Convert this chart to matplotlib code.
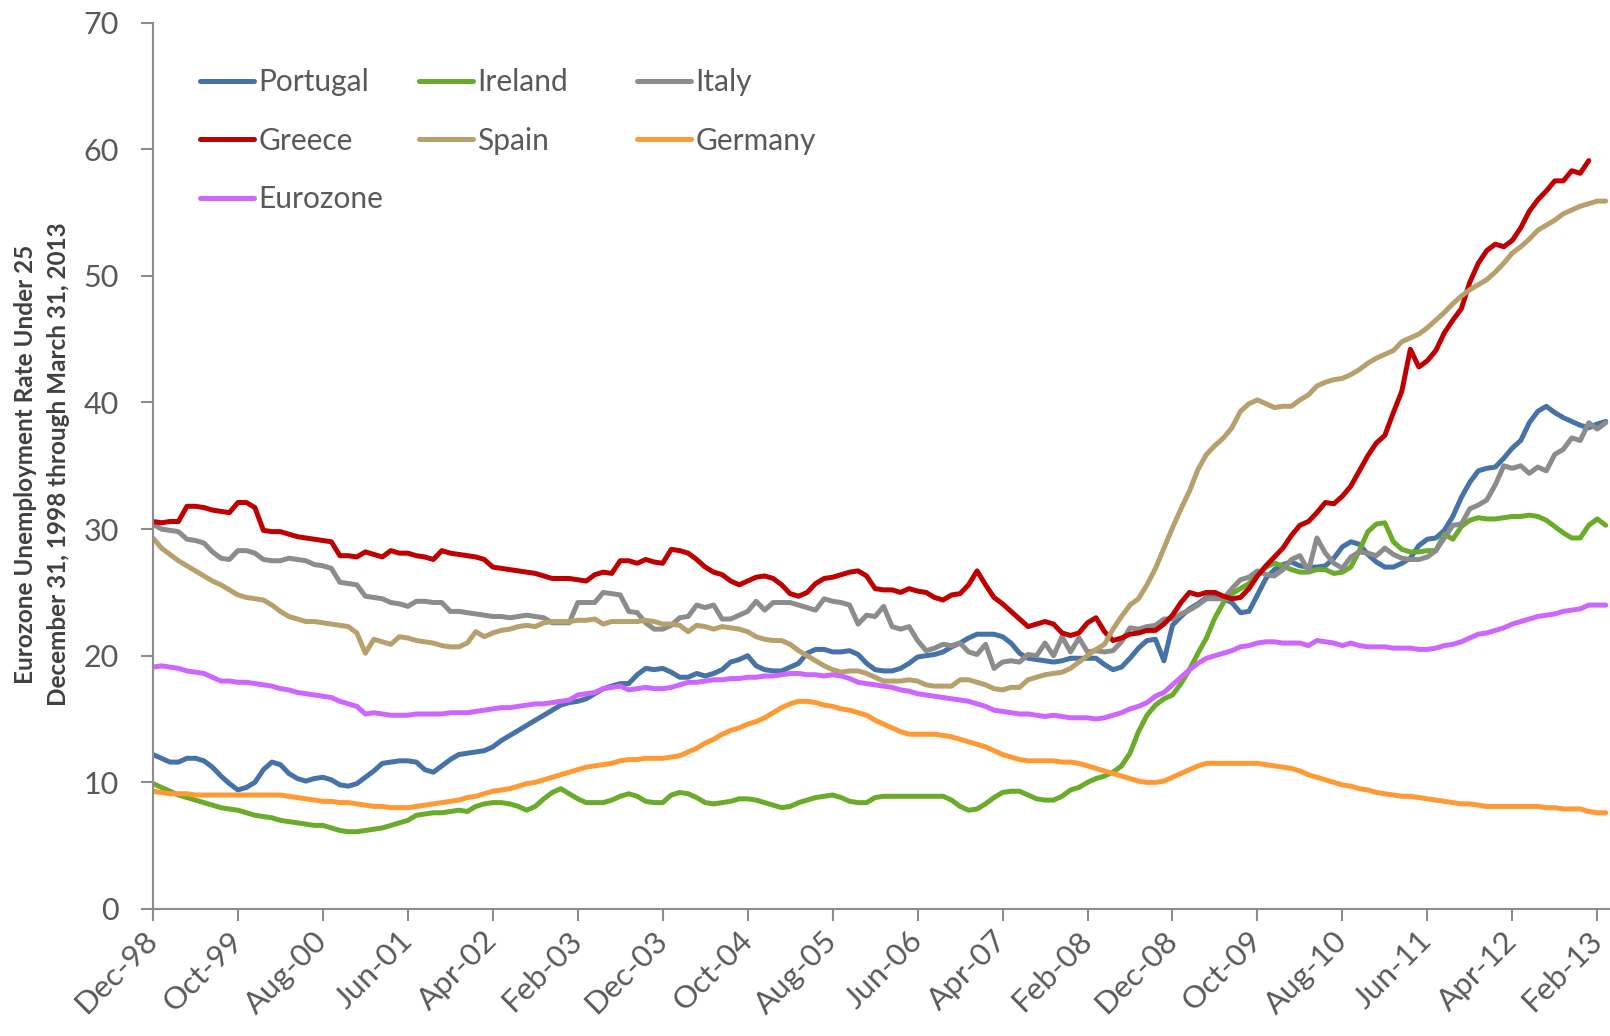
import matplotlib.pyplot as plt
import numpy as np

# Monthly under-25 unemployment rate (%), Dec-98 .. Mar-13 (172 months)
portugal = [
    12.2, 11.9, 11.6, 11.6, 11.9, 11.9, 11.7, 11.2, 10.5, 9.9, 9.4, 9.6, 10.0, 11.0, 11.6,
    11.4, 10.7, 10.3, 10.1, 10.3, 10.4, 10.2, 9.8, 9.7, 9.9, 10.4, 10.9, 11.5, 11.6, 11.7,
    11.7, 11.6, 11.0, 10.8, 11.3, 11.8, 12.2, 12.3, 12.4, 12.5, 12.8, 13.3, 13.7, 14.1, 14.5,
    14.9, 15.3, 15.7, 16.1, 16.3, 16.4, 16.6, 17.0, 17.4, 17.6, 17.8, 17.8, 18.5, 19.0,
    18.9, 19.0, 18.7, 18.3, 18.3, 18.6, 18.4, 18.6, 18.9, 19.5, 19.7, 20.0, 19.2, 18.9, 18.8,
    18.8, 19.1, 19.4, 20.2, 20.5, 20.5, 20.3, 20.3, 20.4, 20.1, 19.4, 18.9, 18.8, 18.8, 19.0,
    19.4, 19.9, 20.0, 20.1, 20.3, 20.7, 21.0, 21.4, 21.7, 21.7, 21.7, 21.5, 21.0, 20.2, 19.8,
    19.7, 19.6, 19.5, 19.6, 19.8, 19.8, 19.8, 19.8, 19.3, 18.9, 19.1, 19.8, 20.6, 21.2,
    21.3, 19.6, 22.4, 23.1, 23.7, 24.1, 24.6, 24.6, 24.5, 24.2, 23.4, 23.5, 24.8, 26.1, 26.8,
    27.2, 27.4, 27.1, 27.0, 27.0, 27.1, 27.7, 28.6, 29.0, 28.8, 28.0,
    27.4, 27.0, 27.0, 27.3, 27.7, 28.7, 29.2, 29.3, 29.9, 31.0, 32.5, 33.7, 34.6, 34.8, 34.9,
    35.6, 36.4, 37.0, 38.4, 39.3, 39.7, 39.2, 38.8, 38.5, 38.2, 38.0, 38.3, 38.5,
]
ireland = [
    9.9, 9.6, 9.3, 9.0, 8.8, 8.6, 8.4, 8.2, 8.0, 7.9, 7.8, 7.6, 7.4, 7.3, 7.2,
    7.0, 6.9, 6.8, 6.7, 6.6, 6.6, 6.4, 6.2, 6.1, 6.1, 6.2, 6.3, 6.4, 6.6, 6.8,
    7.0, 7.4, 7.5, 7.6, 7.6, 7.7, 7.8, 7.7, 8.1, 8.3, 8.4, 8.4, 8.3, 8.1, 7.8,
    8.1, 8.7, 9.2, 9.5, 9.1, 8.7, 8.4, 8.4, 8.4, 8.6, 8.9, 9.1, 8.9, 8.5,
    8.4, 8.4, 9.0, 9.2, 9.1, 8.8, 8.4, 8.3, 8.4, 8.5, 8.7, 8.7, 8.6, 8.4, 8.2,
    8.0, 8.1, 8.4, 8.6, 8.8, 8.9, 9.0, 8.8, 8.5, 8.4, 8.4, 8.8, 8.9, 8.9, 8.9,
    8.9, 8.9, 8.9, 8.9, 8.9, 8.6, 8.1, 7.8, 7.9, 8.3, 8.8, 9.2, 9.3, 9.3, 9.0,
    8.7, 8.6, 8.6, 8.9, 9.4, 9.6, 10.0, 10.3, 10.5, 10.8, 11.3, 12.3, 14.0, 15.3,
    16.1, 16.6, 16.9, 17.8, 18.9, 20.2, 21.4, 23.0, 24.2, 24.9, 25.3, 25.7, 26.4, 27.0, 27.3,
    27.1, 26.8, 26.6, 26.6, 26.8, 26.8, 26.5, 26.6, 27.0, 28.3, 29.8, 30.4, 30.5,
    29.0, 28.4, 28.2, 28.2, 28.3, 28.3, 29.6, 29.2, 30.2, 30.7, 30.9, 30.8, 30.8, 30.9, 31.0,
    31.0, 31.1, 31.0, 30.7, 30.2, 29.7, 29.3, 29.3, 30.3, 30.8, 30.3,
]
italy = [
    30.4, 30.0, 29.9, 29.8, 29.2, 29.1, 28.9, 28.2, 27.7, 27.6, 28.3, 28.3, 28.1, 27.6, 27.5,
    27.5, 27.7, 27.6, 27.5, 27.2, 27.1, 26.9, 25.8, 25.7, 25.6, 24.7, 24.6, 24.5, 24.2, 24.1,
    23.9, 24.3, 24.3, 24.2, 24.2, 23.5, 23.5, 23.4, 23.3, 23.2, 23.1, 23.1, 23.0, 23.1, 23.2,
    23.1, 23.0, 22.6, 22.6, 22.6, 24.2, 24.2, 24.2, 25.0, 24.9, 24.8, 23.5, 23.4, 22.6,
    22.1, 22.1, 22.4, 23.0, 23.1, 24.0, 23.8, 24.0, 22.9, 22.9, 23.2, 23.5, 24.3, 23.6, 24.2,
    24.2, 24.2, 24.0, 23.8, 23.6, 24.5, 24.3, 24.2, 24.0, 22.5, 23.2, 23.1, 23.9, 22.3, 22.1,
    22.3, 21.2, 20.4, 20.6, 20.9, 20.8, 21.0, 20.3, 20.1, 20.9, 19.0, 19.5, 19.6, 19.5, 20.1,
    20.0, 21.0, 20.0, 21.5, 20.3, 21.4, 20.3, 20.4, 20.3, 20.4, 21.1, 22.2, 22.1, 22.3,
    22.4, 22.9, 22.9, 23.3, 23.6, 24.0, 24.5, 24.5, 24.5, 25.3, 26.0, 26.2, 26.7, 26.4, 26.3,
    26.8, 27.6, 27.9, 26.7, 29.3, 28.1, 27.3, 26.9, 27.8, 28.2, 28.1, 27.9, 28.5,
    28.0, 27.7, 27.6, 27.6, 27.8, 28.3, 29.3, 30.3, 30.4, 31.6, 31.9, 32.3, 33.5, 35.0, 34.8,
    35.0, 34.4, 34.9, 34.6, 35.9, 36.3, 37.2, 37.0, 38.4, 37.9, 38.4,
]
greece = [
    30.6, 30.5, 30.6, 30.6, 31.8, 31.8, 31.7, 31.5, 31.4, 31.3, 32.1, 32.1, 31.7, 29.9, 29.8,
    29.8, 29.6, 29.4, 29.3, 29.2, 29.1, 29.0, 27.9, 27.9, 27.8, 28.2, 28.0, 27.8, 28.3, 28.1,
    28.1, 27.9, 27.8, 27.6, 28.3, 28.1, 28.0, 27.9, 27.8, 27.6, 27.0, 26.9, 26.8, 26.7, 26.6,
    26.5, 26.3, 26.1, 26.1, 26.1, 26.0, 25.9, 26.4, 26.6, 26.5, 27.5, 27.5, 27.3, 27.6,
    27.4, 27.3, 28.4, 28.3, 28.1, 27.6, 27.0, 26.6, 26.4, 25.9, 25.6, 25.9, 26.2, 26.3, 26.1,
    25.6, 24.9, 24.7, 25.0, 25.7, 26.1, 26.2, 26.4, 26.6, 26.7, 26.3, 25.3, 25.2, 25.2, 25.0,
    25.3, 25.1, 25.0, 24.6, 24.4, 24.8, 24.9, 25.6, 26.7, 25.6, 24.6, 24.1, 23.5, 22.9, 22.3,
    22.5, 22.7, 22.5, 21.8, 21.6, 21.8, 22.6, 23.0, 21.9, 21.2, 21.4, 21.7, 21.8, 22.0,
    22.0, 22.5, 23.2, 24.2, 25.0, 24.8, 25.0, 25.0, 24.7, 24.5, 24.6, 25.3, 26.3, 27.1, 27.8,
    28.5, 29.5, 30.3, 30.6, 31.3, 32.1, 32.0,
    32.6, 33.4, 34.6, 35.8, 36.8, 37.4, 39.2, 40.9, 44.2, 42.8, 43.3, 44.1, 45.5, 46.5, 47.4,
    49.5, 51.0, 52.0, 52.5, 52.3, 52.8, 53.8, 55.1, 56.0, 56.7, 57.5, 57.5, 58.3, 58.1, 59.1,
    np.nan, np.nan,
]
spain = [
    29.3, 28.5, 28.0, 27.5, 27.1, 26.7, 26.3, 25.9, 25.6, 25.2, 24.8, 24.6, 24.5, 24.4, 24.0,
    23.5, 23.1, 22.9, 22.7, 22.7, 22.6, 22.5, 22.4, 22.3, 21.8, 20.2, 21.3, 21.1, 20.9, 21.5,
    21.4, 21.2, 21.1, 21.0, 20.8, 20.7, 20.7, 21.0, 21.9, 21.5, 21.8, 22.0, 22.1, 22.3, 22.4,
    22.3, 22.6, 22.7, 22.7, 22.7, 22.8, 22.8, 22.9, 22.5, 22.7, 22.7, 22.7, 22.7, 22.8,
    22.7, 22.5, 22.5, 22.4, 21.9, 22.4, 22.3, 22.1, 22.3, 22.2, 22.1, 21.9, 21.5, 21.3, 21.2,
    21.2, 20.9, 20.4, 20.0, 19.6, 19.2, 18.9, 18.7, 18.8, 18.8, 18.6, 18.3, 18.0, 18.0, 18.0,
    18.1, 18.0, 17.7, 17.6, 17.6, 17.6, 18.1, 18.1, 17.9, 17.7, 17.4, 17.3, 17.5, 17.5, 18.1,
    18.3, 18.5, 18.6, 18.7, 19.0, 19.5, 20.0, 20.5, 20.9, 22.1, 23.1, 24.0, 24.5, 25.6,
    26.9, 28.5, 30.1, 31.6, 33.0, 34.7, 35.9, 36.6, 37.2, 38.0, 39.3, 39.9, 40.2, 39.9, 39.6,
    39.7, 39.7, 40.2, 40.6, 41.3, 41.6, 41.8, 41.9, 42.2, 42.6, 43.1, 43.5,
    43.8, 44.1, 44.8, 45.1, 45.4, 45.9, 46.5, 47.1, 47.8, 48.4, 48.9, 49.3, 49.7, 50.3, 51.0,
    51.8, 52.3, 52.9, 53.6, 54.0, 54.4, 54.9, 55.2, 55.5, 55.7, 55.9, 55.9,
]
germany = [
    9.3, 9.2, 9.1, 9.1, 9.1, 9.0, 9.0, 9.0, 9.0, 9.0, 9.0, 9.0, 9.0, 9.0, 9.0,
    9.0, 8.9, 8.8, 8.7, 8.6, 8.5, 8.5, 8.4, 8.4, 8.3, 8.2, 8.1, 8.1, 8.0, 8.0,
    8.0, 8.1, 8.2, 8.3, 8.4, 8.5, 8.6, 8.8, 8.9, 9.1, 9.3, 9.4, 9.5, 9.7, 9.9,
    10.0, 10.2, 10.4, 10.6, 10.8, 11.0, 11.2, 11.3, 11.4, 11.5, 11.7, 11.8, 11.8, 11.9,
    11.9, 11.9, 12.0, 12.1, 12.4, 12.7, 13.1, 13.4, 13.8, 14.1, 14.3, 14.6, 14.8, 15.1, 15.5,
    15.9, 16.2, 16.4, 16.4, 16.3, 16.1, 16.0, 15.8, 15.7, 15.5, 15.3, 14.9, 14.6, 14.3, 14.0,
    13.8, 13.8, 13.8, 13.8, 13.7, 13.6, 13.4, 13.2, 13.0, 12.8, 12.5, 12.2, 12.0, 11.8, 11.7,
    11.7, 11.7, 11.7, 11.6, 11.6, 11.5, 11.3, 11.1, 10.9, 10.7, 10.5, 10.3, 10.1, 10.0,
    10.0, 10.1, 10.4, 10.7, 11.0, 11.3, 11.5, 11.5, 11.5, 11.5, 11.5, 11.5, 11.5, 11.4, 11.3,
    11.2, 11.1, 10.9, 10.6, 10.4, 10.2, 10.0, 9.8, 9.7, 9.5, 9.4, 9.2, 9.1, 9.0, 8.9,
    8.9, 8.8, 8.7, 8.6, 8.5, 8.4, 8.3, 8.3, 8.2, 8.1, 8.1, 8.1, 8.1, 8.1, 8.1,
    8.1, 8.0, 8.0, 7.9, 7.9, 7.9, 7.7, 7.6, 7.6,
]
eurozone = [
    19.1, 19.2, 19.1, 19.0, 18.8, 18.7, 18.6, 18.3, 18.0, 18.0, 17.9, 17.9, 17.8, 17.7, 17.6,
    17.4, 17.3, 17.1, 17.0, 16.9, 16.8, 16.7, 16.4, 16.2, 16.0, 15.4, 15.5, 15.4, 15.3, 15.3,
    15.3, 15.4, 15.4, 15.4, 15.4, 15.5, 15.5, 15.5, 15.6, 15.7, 15.8, 15.9, 15.9, 16.0, 16.1,
    16.2, 16.2, 16.3, 16.4, 16.5, 16.9, 17.0, 17.1, 17.4, 17.5, 17.6, 17.3, 17.4, 17.5,
    17.4, 17.4, 17.5, 17.7, 17.9, 17.9, 18.0, 18.1, 18.1, 18.2, 18.2, 18.3, 18.3, 18.4, 18.4,
    18.5, 18.6, 18.6, 18.5, 18.5, 18.4, 18.5, 18.4, 18.2, 17.9, 17.8, 17.7, 17.6, 17.5, 17.3,
    17.2, 17.0, 16.9, 16.8, 16.7, 16.6, 16.5, 16.4, 16.2, 16.0, 15.7, 15.6, 15.5, 15.4, 15.4,
    15.3, 15.2, 15.3, 15.2, 15.1, 15.1, 15.1, 15.0, 15.1, 15.3, 15.5, 15.8, 16.0, 16.3,
    16.8, 17.1, 17.7, 18.3, 18.9, 19.4, 19.8, 20.0, 20.2, 20.4, 20.7, 20.8, 21.0, 21.1, 21.1,
    21.0, 21.0, 21.0, 20.8, 21.2, 21.1, 21.0, 20.8, 21.0, 20.8, 20.7, 20.7, 20.7, 20.6, 20.6,
    20.6, 20.5, 20.5, 20.6, 20.8, 20.9, 21.1, 21.4, 21.7, 21.8, 22.0, 22.2, 22.5, 22.7, 22.9,
    23.1, 23.2, 23.3, 23.5, 23.6, 23.7, 24.0, 24.0, 24.0,
]

tick_labels = ["Dec-98", "Oct-99", "Aug-00", "Jun-01", "Apr-02", "Feb-03", "Dec-03",
               "Oct-04", "Aug-05", "Jun-06", "Apr-07", "Feb-08", "Dec-08", "Oct-09",
               "Aug-10", "Jun-11", "Apr-12", "Feb-13"]

plt.rcParams['font.family'] = ['Lato', 'DejaVu Sans']
text_color = "#595959"
axis_color = "#8c8c8c"

series = [
    ("Portugal", portugal, "#4572a7"),
    ("Ireland", ireland, "#6aab2a"),
    ("Italy", italy, "#8c8c8c"),
    ("Greece", greece, "#c00000"),
    ("Spain", spain, "#b8a06c"),
    ("Germany", germany, "#ff9933"),
    ("Eurozone", eurozone, "#cc66ff"),
]

fig = plt.figure(figsize=(16.1, 10.36), dpi=100)
ax = fig.add_axes([0.095, 0.1226, 0.905, 0.8556])

x = np.arange(len(portugal))
lines = {}
for name, values, color in series:
    lines[name], = ax.plot(x, values, color=color, linewidth=3.6,
                           solid_capstyle="round", solid_joinstyle="round")

ax.set_xlim(0, 171.5)
ax.set_ylim(0, 70)
ax.set_yticks(range(0, 71, 10))
ax.set_xticks(np.arange(0, 10 * len(tick_labels), 10))
ax.set_xticklabels(tick_labels, rotation=45, ha="right", va="center",
                   rotation_mode="anchor")

for side in ("top", "right"):
    ax.spines[side].set_visible(False)
for side in ("left", "bottom"):
    ax.spines[side].set_color(axis_color)
    ax.spines[side].set_linewidth(1.5)
ax.tick_params(axis="y", direction="out", length=8.5, width=1.5, color=axis_color,
               labelsize=22, labelcolor=text_color, pad=16)
ax.tick_params(axis="x", direction="out", length=8.5, width=1.5, color=axis_color,
               labelsize=22.5, labelcolor=text_color, pad=11)

# legend laid out in three equal columns like the original
columns = [["Portugal", "Greece", "Eurozone"], ["Ireland", "Spain"], ["Italy", "Germany"]]
col_x = [0.1245, 0.2603, 0.3958]
for names, xpos in zip(columns, col_x):
    fig.legend([lines[n] for n in names], names, loc="upper left",
               bbox_to_anchor=(xpos, 0.934), frameon=False, fontsize=21.5,
               handlelength=1.8, handletextpad=0.15, labelspacing=1.02,
               borderpad=0, borderaxespad=0, labelcolor=text_color)

fig.text(0.026, 0.552,
         "Eurozone Unemployment Rate Under 25\nDecember 31, 1998 through March 31, 2013",
         rotation=90, ha="center", va="center", multialignment="center",
         fontsize=17.5, fontweight="bold", color="#404040", linespacing=1.5)

fig.savefig("out.png", dpi=100)
